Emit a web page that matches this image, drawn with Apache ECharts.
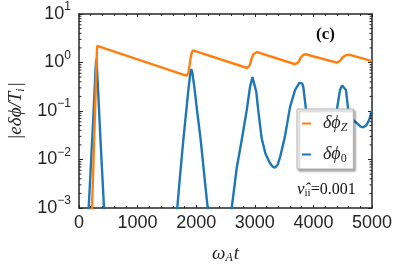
<!DOCTYPE html>
<html><head><meta charset="utf-8">
<script src="https://cdn.jsdelivr.net/npm/echarts@6/dist/echarts.min.js"></script>
<style>html,body{margin:0;padding:0;background:#fff}#c{width:407px;height:268px}</style>
</head><body><div id="c"></div>
<script>
const seriesNames = ['δϕ_Z', 'δϕ_0'];
const phiZ = [
  [200, 0.00025], [222, 0.001], [250, 0.012], [280, 0.17], [300, 1.1], [310, 2.2], [318, 2.38], [330, 2.36],
  [1830, 0.535], [1850, 0.54], [1865, 0.6], [1885, 0.85], [1905, 1.25], [1925, 1.6], [1945, 1.78], [1965, 1.82],
  [2870, 0.77], [2892, 0.77], [2915, 0.88], [2945, 1.2], [2975, 1.48], [3005, 1.61], [3040, 1.64],
  [3690, 0.92], [3718, 0.92], [3745, 1.02], [3785, 1.27], [3825, 1.43], [3865, 1.48], [3895, 1.48],
  [4400, 0.99], [4428, 0.99], [4455, 1.08], [4495, 1.27], [4545, 1.4], [4590, 1.44], [4625, 1.43],
  [5000, 1.07]
];
const phi0 = [
  [100, 0.00002], [165, 0.001], [230, 0.034], [265, 0.25], [283, 0.75], [295, 1.16], [307, 0.75], [325, 0.28],
  [370, 0.021], [427, 0.001], [490, 0.00002],
  [1610, 0.00002], [1677, 0.001], [1730, 0.0055], [1780, 0.025], [1830, 0.1], [1870, 0.3], [1900, 0.6],
  [1916, 0.73], [1935, 0.62], [1970, 0.3], [2020, 0.09], [2077, 0.025], [2140, 0.0045], [2196, 0.001],
  [2260, 0.00002],
  [2540, 0.00002], [2606, 0.001], [2690, 0.0065], [2776, 0.025], [2860, 0.1], [2920, 0.32], [2960, 0.5],
  [2975, 0.53], [2992, 0.48], [3025, 0.25], [3060, 0.1], [3118, 0.027], [3180, 0.0135], [3250, 0.0088],
  [3300, 0.0072], [3345, 0.0068], [3390, 0.0078], [3430, 0.011], [3515, 0.03], [3601, 0.12], [3686, 0.27],
  [3760, 0.38], [3788, 0.40], [3810, 0.37], [3830, 0.3], [3874, 0.105], [3950, 0.04], [4050, 0.02],
  [4150, 0.017], [4250, 0.025], [4330, 0.05], [4397, 0.1], [4454, 0.27], [4490, 0.335], [4505, 0.34],
  [4520, 0.33], [4556, 0.27], [4596, 0.1], [4680, 0.065], [4744, 0.056], [4800, 0.048], [4852, 0.046],
  [4900, 0.05], [4950, 0.065], [5000, 0.1]
];
const xTicks = [0, 1000, 2000, 3000, 4000, 5000];
const yTicks = [0.001, 0.01, 0.1, 1, 10];
const yTickExponents = ['−3', '−2', '−1', '0', '1'];
const yMinorTicks = [
  0.002, 0.003, 0.004, 0.005, 0.006, 0.007, 0.008, 0.009,
  0.02, 0.03, 0.04, 0.05, 0.06, 0.07, 0.08, 0.09,
  0.2, 0.3, 0.4, 0.5, 0.6, 0.7, 0.8, 0.9,
  2, 3, 4, 5, 6, 7, 8, 9
];

const AX = '#262626';
const SERIF = 'Liberation Serif, DejaVu Serif, serif';
const SANS = 'Liberation Sans, Arial, sans-serif';
const chart = echarts.init(document.getElementById('c'), null, {renderer: 'canvas'});

const baseX = {
  type: 'value', min: xTicks[0], max: xTicks[xTicks.length - 1], interval: 1000,
  axisLine: {show: true, onZero: false, lineStyle: {color: AX, width: 1.5}},
  axisTick: {show: true, inside: true, length: 3, lineStyle: {color: AX, width: 1}},
  minorTick: {show: true, splitNumber: 5, length: 2, lineStyle: {color: AX, width: 1}},
  splitLine: {show: false}, minorSplitLine: {show: false}
};
const baseY = {
  type: 'log', logBase: 10, min: yTicks[0], max: yTicks[yTicks.length - 1],
  axisLine: {show: true, onZero: false, lineStyle: {color: AX, width: 1.5}},
  axisTick: {show: true, inside: true, length: 4, lineStyle: {color: AX, width: 1}},
  splitLine: {show: false}
};

function yLabel(value) {
  const i = yTicks.findIndex(t => Math.abs(Math.log10(t) - Math.log10(value)) < 1e-6);
  return i < 0 ? '' : '{b|10}{s|' + yTickExponents[i] + '}';
}

chart.setOption({
  animation: false,
  backgroundColor: '#fff',
  grid: {left: 79, top: 14, right: 35, bottom: 60, containLabel: false, outerBoundsMode: 'none'},
  xAxis: [
    Object.assign({}, baseX, {
      position: 'bottom',
      name: '{t|ω}{sub|A}{t|t}', nameLocation: 'middle', nameGap: 36,
      nameTextStyle: {rich: {
        t: {fontFamily: SERIF, fontStyle: 'italic', fontSize: 19, color: AX, lineHeight: 20},
        sub: {fontFamily: SERIF, fontStyle: 'italic', fontSize: 12, color: AX, lineHeight: 12, padding: [8, 1, 0, 0]}
      }},
      axisLabel: {show: true, margin: 6, fontFamily: SANS, fontSize: 18, color: AX,
        formatter: v => xTicks.indexOf(v) >= 0 ? String(v) : ''}
    }),
    Object.assign({}, baseX, {position: 'top', axisLabel: {show: false}, name: ''})
  ],
  yAxis: [
    Object.assign({}, baseY, {
      position: 'left',
      name: '{t||eδϕ/T}{sub|i}{t||}', nameLocation: 'middle', nameGap: 52, nameRotate: 90,
      nameTextStyle: {rich: {
        t: {fontFamily: SERIF, fontStyle: 'italic', fontSize: 19, color: AX, lineHeight: 20},
        sub: {fontFamily: SERIF, fontStyle: 'italic', fontSize: 12, color: AX, lineHeight: 12, padding: [8, 1, 0, 0]}
      }},
      axisLabel: {show: true, margin: 8, color: AX, formatter: yLabel,
        rich: {
          b: {fontFamily: SANS, fontSize: 18, color: AX, lineHeight: 18},
          s: {fontFamily: SANS, fontSize: 12, color: AX, lineHeight: 12, padding: [0, 0, 14, 0]}
        }}
    }),
    Object.assign({}, baseY, {position: 'right', axisLabel: {show: false}})
  ],
  legend: {
    data: seriesNames,
    orient: 'vertical', left: 297, top: 109,
    padding: [4, 6, 4, 5], itemGap: 10, itemWidth: 9, itemHeight: 2,
    icon: 'rect',
    backgroundColor: '#fff', borderColor: '#b0b0b0', borderWidth: 1,
    shadowColor: 'rgba(0,0,0,0.35)', shadowBlur: 2, shadowOffsetX: 2, shadowOffsetY: 2,
    selectedMode: false,
    formatter: name => name === seriesNames[0] ? '{i|δϕ}{sz|Z}' : '{i|δϕ}{s0|0}',
    textStyle: {rich: {
      i: {fontFamily: SERIF, fontStyle: 'italic', fontSize: 18, color: AX, lineHeight: 22, padding: [0, 0, 0, 7]},
      sz: {fontFamily: SERIF, fontStyle: 'italic', fontSize: 12, color: AX, lineHeight: 12, padding: [9, 0, 0, 0]},
      s0: {fontFamily: SERIF, fontSize: 12, color: AX, lineHeight: 12, padding: [9, 0, 0, 0]}
    }}
  },
  graphic: [
    {type: 'text', left: 316, top: 26, z: 10,
     style: {text: '(c)', font: 'bold 17px ' + SERIF, fill: '#111'}},
    {type: 'text', left: 297, top: 180, z: 10,
     style: {text: '{i|ν̂}{sub|ii}{r|=0.001}', rich: {
       i: {fontFamily: SERIF, fontStyle: 'italic', fontSize: 17, fill: '#111', lineHeight: 20},
       sub: {fontFamily: SERIF, fontSize: 11, fill: '#111', lineHeight: 11, padding: [8, 0, 0, 0]},
       r: {fontFamily: SERIF, fontSize: 16, fill: '#111', lineHeight: 20}
     }}}
  ],
  series: [
    {name: seriesNames[1], type: 'line', data: phi0, xAxisIndex: 0, yAxisIndex: 0, symbol: 'none',
     showSymbol: false, clip: true, z: 2, lineStyle: {color: '#1f77b4', width: 2.4}, itemStyle: {color: '#1f77b4'}},
    {name: seriesNames[0], type: 'line', data: phiZ, xAxisIndex: 0, yAxisIndex: 0, symbol: 'none',
     showSymbol: false, clip: true, z: 3, lineStyle: {color: '#ff7f0e', width: 2.4}, itemStyle: {color: '#ff7f0e'}},
    {type: 'custom', name: 'minorTicks', xAxisIndex: 0, yAxisIndex: 0, silent: true, clip: false, z: 5,
     data: yMinorTicks.map(v => [xTicks[0], v]),
     renderItem: (params, api) => {
       const v = api.value(1);
       const l = api.coord([xTicks[0], v]);
       const r = api.coord([xTicks[xTicks.length - 1], v]);
       return {type: 'group', children: [
         {type: 'line', shape: {x1: l[0], y1: l[1], x2: l[0] + 2.5, y2: l[1]}, style: {stroke: AX, lineWidth: 1}},
         {type: 'line', shape: {x1: r[0], y1: r[1], x2: r[0] - 2.5, y2: r[1]}, style: {stroke: AX, lineWidth: 1}}
       ]};
     }}
  ]
});
</script></body></html>
